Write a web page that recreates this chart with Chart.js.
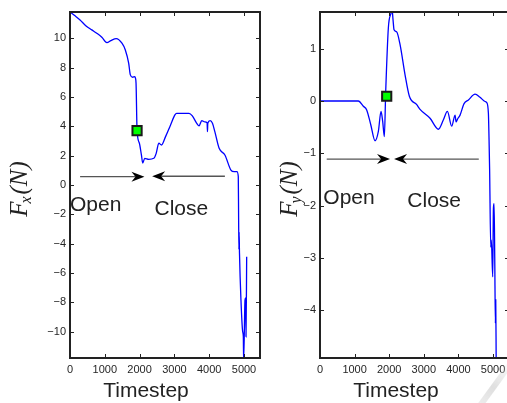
<!DOCTYPE html>
<html>
<head>
<meta charset="utf-8">
<script src="https://cdn.jsdelivr.net/npm/chart.js@4.4.1/dist/chart.umd.min.js"></script>
<style>
html, body { margin: 0; padding: 0; background: #fff; width: 507px; height: 403px; overflow: hidden; position: relative; }
canvas { position: absolute; top: 0; }
#chartFx { left: 0; }
#chartFy { left: 262px; }
.curl { position: absolute; left: 492px; top: 356px; width: 6px; height: 58px; transform: rotate(36deg);
        background: linear-gradient(to bottom, rgba(215,215,215,0), rgba(215,215,215,0.8) 55%, rgba(225,225,225,0.5)); }
</style>
</head>
<body>
<canvas id="chartFx" width="262" height="403"></canvas>
<canvas id="chartFy" width="260" height="403"></canvas>
<div class="curl"></div>
<script>
// force in x
var fxSteps = [0, 145, 289, 462, 626, 771, 915, 1060, 1175, 1329, 1493, 1590, 1686, 1734, 1801, 1859, 1880, 1898, 1927, 1994, 2052, 2090, 2148, 2263, 2408, 2477, 2552, 2630, 2746, 2890, 3015, 3064, 3420, 3516, 3642, 3709, 3786, 3873, 3940, 3950, 3960, 4026, 4094, 4162, 4286, 4451, 4624, 4720, 4798, 4836, 4846, 4855, 4860, 4870, 4913, 4962, 4981, 4990, 5029, 5048, 5058, 5077]
var fxValues = [11.8, 11.54, 11.26, 10.85, 10.58, 10.35, 10.08, 9.71, 9.85, 9.99, 9.67, 9.21, 8.31, 7.51, 7.35, 7.39, 7.3, 6.94, 3.75, 2.85, 2.05, 1.5, 1.82, 1.75, 1.82, 2.16, 2.85, 2.73, 3.3, 4.1, 4.78, 4.89, 4.89, 4.71, 4.21, 4.03, 4.39, 4.3, 4.25, 3.64, 4.21, 4.39, 4.21, 3.64, 2.5, 2.05, 1.02, 0.91, 0.91, 0.57, -2.4, -4.4, -3.2, -4.6, -7.85, -10.0, -10.35, -12.0, -7.85, -7.7, -10.35, -4.9]

// force in y
var fySteps = [0, 1107, 1252, 1349, 1465, 1590, 1686, 1763, 1811, 1859, 1898, 1975, 2052, 2081, 2110, 2139, 2216, 2312, 2457, 2582, 2794, 2890, 3179, 3420, 3565, 3680, 3805, 3902, 3930, 3969, 4046, 4162, 4287, 4480, 4624, 4769, 4817, 4865, 4884, 4900, 4933, 4950, 4990, 5010, 5029, 5048, 5067, 5077, 5090]
var fyValues = [0, 0, -0.1, -0.17, -0.45, -0.76, -0.58, -0.2, -0.39, -0.68, 0.18, 1.4, 1.68, 1.75, 1.55, 1.36, 1.32, 1.08, 0.5, 0.09, -0.07, -0.16, -0.33, -0.54, -0.36, -0.2, -0.48, -0.27, -0.4, -0.35, -0.27, -0.05, 0.02, 0.13, 0.07, -0.01, -0.03, -0.24, -0.75, -1.3, -2.79, -2.66, -3.36, -2.05, -1.96, -2.98, -4.25, -3.8, -5.0]

// tick labels
var stepTicks = [0, 1000, 2000, 3000, 4000, 5000]
var fxTicks = [-10, -8, -6, -4, -2, 0, 2, 4, 6, 8, 10]
var fyTicks = [-4, -3, -2, -1, 0, 1]

// switch point (green square)
var switchFx = [1927, 3.71]
var switchFy = [1927, 0.09]

// arrows [fromX, fromY, toX, toY]
var fxArrows = [[290, 0.57, 2139, 0.57], [4451, 0.6, 2361, 0.6]]
var fyArrows = [[194, -1.11, 2023, -1.11], [4587, -1.11, 2139, -1.11]]

// phase labels [text, x, y(baseline)]
var fxNotes = [['Open', 0, -1.75], ['Close', 2428, -2.05]]
var fyNotes = [['Open', 96, -1.97], ['Close', 2523, -2.02]]

var tickColor = '#262626'
var sansFont = '"Liberation Sans", Arial, sans-serif'
var serifFont = '"Liberation Serif", "Times New Roman", serif'

function toPoints(xs, ys){
    var pts = []
    for (let i = 0; i < xs.length; i++) pts.push({x: xs[i], y: ys[i]})
    return pts
}

function arrowHead(ctx, x0, y0, x1, y1){
    var ang = Math.atan2(y1 - y0, x1 - x0)
    ctx.save()
    ctx.translate(x1, y1)
    ctx.rotate(ang)
    ctx.beginPath()
    ctx.moveTo(0, 0)
    ctx.lineTo(-13, -5)
    ctx.lineTo(-9, 0)
    ctx.lineTo(-13, 5)
    ctx.closePath()
    ctx.fill()
    ctx.restore()
}

var framePlugin = {
    id: 'frame',
    afterDraw(chart, args, o) {
        var ctx = chart.ctx, a = chart.chartArea
        var xs = chart.scales.x, ys = chart.scales.y
        ctx.save()

        // arrows
        ctx.lineWidth = 1.4
        ctx.strokeStyle = '#555'
        ctx.fillStyle = '#000'
        for (let ar of o.arrows) {
            var x0 = xs.getPixelForValue(ar[0]), y0 = ys.getPixelForValue(ar[1])
            var x1 = xs.getPixelForValue(ar[2]), y1 = ys.getPixelForValue(ar[3])
            ctx.beginPath()
            ctx.moveTo(x0, y0)
            ctx.lineTo(x1 + (x0 < x1 ? -9 : 9), y1)
            ctx.stroke()
            arrowHead(ctx, x0, y0, x1, y1)
        }

        // Open / Close
        ctx.fillStyle = '#222'
        ctx.font = '21px ' + sansFont
        ctx.textAlign = 'left'
        ctx.textBaseline = 'alphabetic'
        for (let n of o.notes)
            ctx.fillText(n[0], xs.getPixelForValue(n[1]), ys.getPixelForValue(n[2]))

        // inward ticks on all four sides
        ctx.strokeStyle = '#222'
        ctx.lineWidth = 1
        ctx.beginPath()
        xs.ticks.forEach(t => {
            var px = Math.round(xs.getPixelForValue(t.value)) + 0.5
            ctx.moveTo(px, a.bottom); ctx.lineTo(px, a.bottom - 4)
            ctx.moveTo(px, a.top); ctx.lineTo(px, a.top + 4)
        })
        ys.ticks.forEach(t => {
            var py = Math.round(ys.getPixelForValue(t.value)) + 0.5
            ctx.moveTo(a.left, py); ctx.lineTo(a.left + 4, py)
            ctx.moveTo(a.right, py); ctx.lineTo(a.right - 4, py)
        })
        ctx.stroke()
        ctx.lineWidth = 2
        ctx.strokeRect(a.left, a.top, a.right - a.left, a.bottom - a.top)

        // x title
        ctx.fillStyle = '#222'
        ctx.font = '21px ' + sansFont
        ctx.textAlign = 'center'
        ctx.fillText('Timestep', a.left + 76, 397)

        // y title F_x(N), rotated
        ctx.translate(a.left + o.yTitleBase, 189)
        ctx.rotate(-Math.PI / 2)
        var big = 'italic 25px ' + serifFont, small = 'italic 16px ' + serifFont
        ctx.font = big
        var w1 = ctx.measureText('F').width
        var w3 = ctx.measureText('(N)').width
        ctx.font = small
        var w2 = ctx.measureText(o.sub).width
        var x = -(w1 + w2 + w3) / 2
        ctx.textAlign = 'left'
        ctx.font = big
        ctx.fillText('F', x, 0)
        ctx.font = small
        ctx.fillText(o.sub, x + w1 - 2, 4)
        ctx.font = big
        ctx.fillText('(N)', x + w1 + w2, 0)
        ctx.restore()
    }
}

function makeChart(id, steps, values, mark, yMin, yMax, yTicks, leftW, padRight, frameOpts){
    return new Chart(document.getElementById(id), {
        type: 'line',
        data: {
            datasets: [{
                type: 'scatter',
                data: [{x: mark[0], y: mark[1]}],
                pointStyle: 'rect',
                pointRadius: 6.5,
                pointBackgroundColor: '#00ff00',
                pointBorderColor: '#1a1a1a',
                pointBorderWidth: 2,
                order: 0
            }, {
                data: toPoints(steps, values),
                borderColor: '#0000ff',
                borderWidth: 1.3,
                pointRadius: 0,
                cubicInterpolationMode: 'monotone',
                fill: false,
                order: 1
            }]
        },
        options: {
            responsive: false,
            animation: false,
            layout: {autoPadding: false, padding: {top: 12, right: padRight, left: 0, bottom: 0}},
            plugins: {
                legend: {display: false},
                tooltip: {enabled: false},
                frame: frameOpts
            },
            scales: {
                x: {
                    type: 'linear', min: 0, max: 5460,
                    grid: {display: false, drawTicks: false},
                    border: {display: false},
                    afterFit: s => { s.height = 45; s.paddingLeft = 0; s.paddingRight = 0 },
                    afterBuildTicks: s => { s.ticks = stepTicks.map(v => ({value: v})) },
                    ticks: {
                        autoSkip: false, maxRotation: 0, padding: 5,
                        color: tickColor, font: {family: sansFont, size: 11},
                        callback: v => String(v)
                    }
                },
                y: {
                    type: 'linear', min: yMin, max: yMax,
                    grid: {display: false, drawTicks: false},
                    border: {display: false},
                    afterFit: s => { s.width = leftW; s.paddingTop = 0; s.paddingBottom = 0 },
                    afterBuildTicks: s => { s.ticks = yTicks.map(v => ({value: v})) },
                    ticks: {
                        autoSkip: false, padding: 4,
                        color: tickColor, font: {family: sansFont, size: 11},
                        callback: v => String(v).replace('-', '\u2212')
                    }
                }
            }
        },
        plugins: [framePlugin]
    })
}

makeChart('chartFx', fxSteps, fxValues, switchFx, -11.8, 11.8, fxTicks, 70, 2,
    {arrows: fxArrows, notes: fxNotes, sub: 'x', yTitleBase: -43})
makeChart('chartFy', fySteps, fyValues, switchFy, -4.91, 1.7, fyTicks, 58, 13,
    {arrows: fyArrows, notes: fyNotes, sub: 'y', yTitleBase: -23})
</script>
</body>
</html>
